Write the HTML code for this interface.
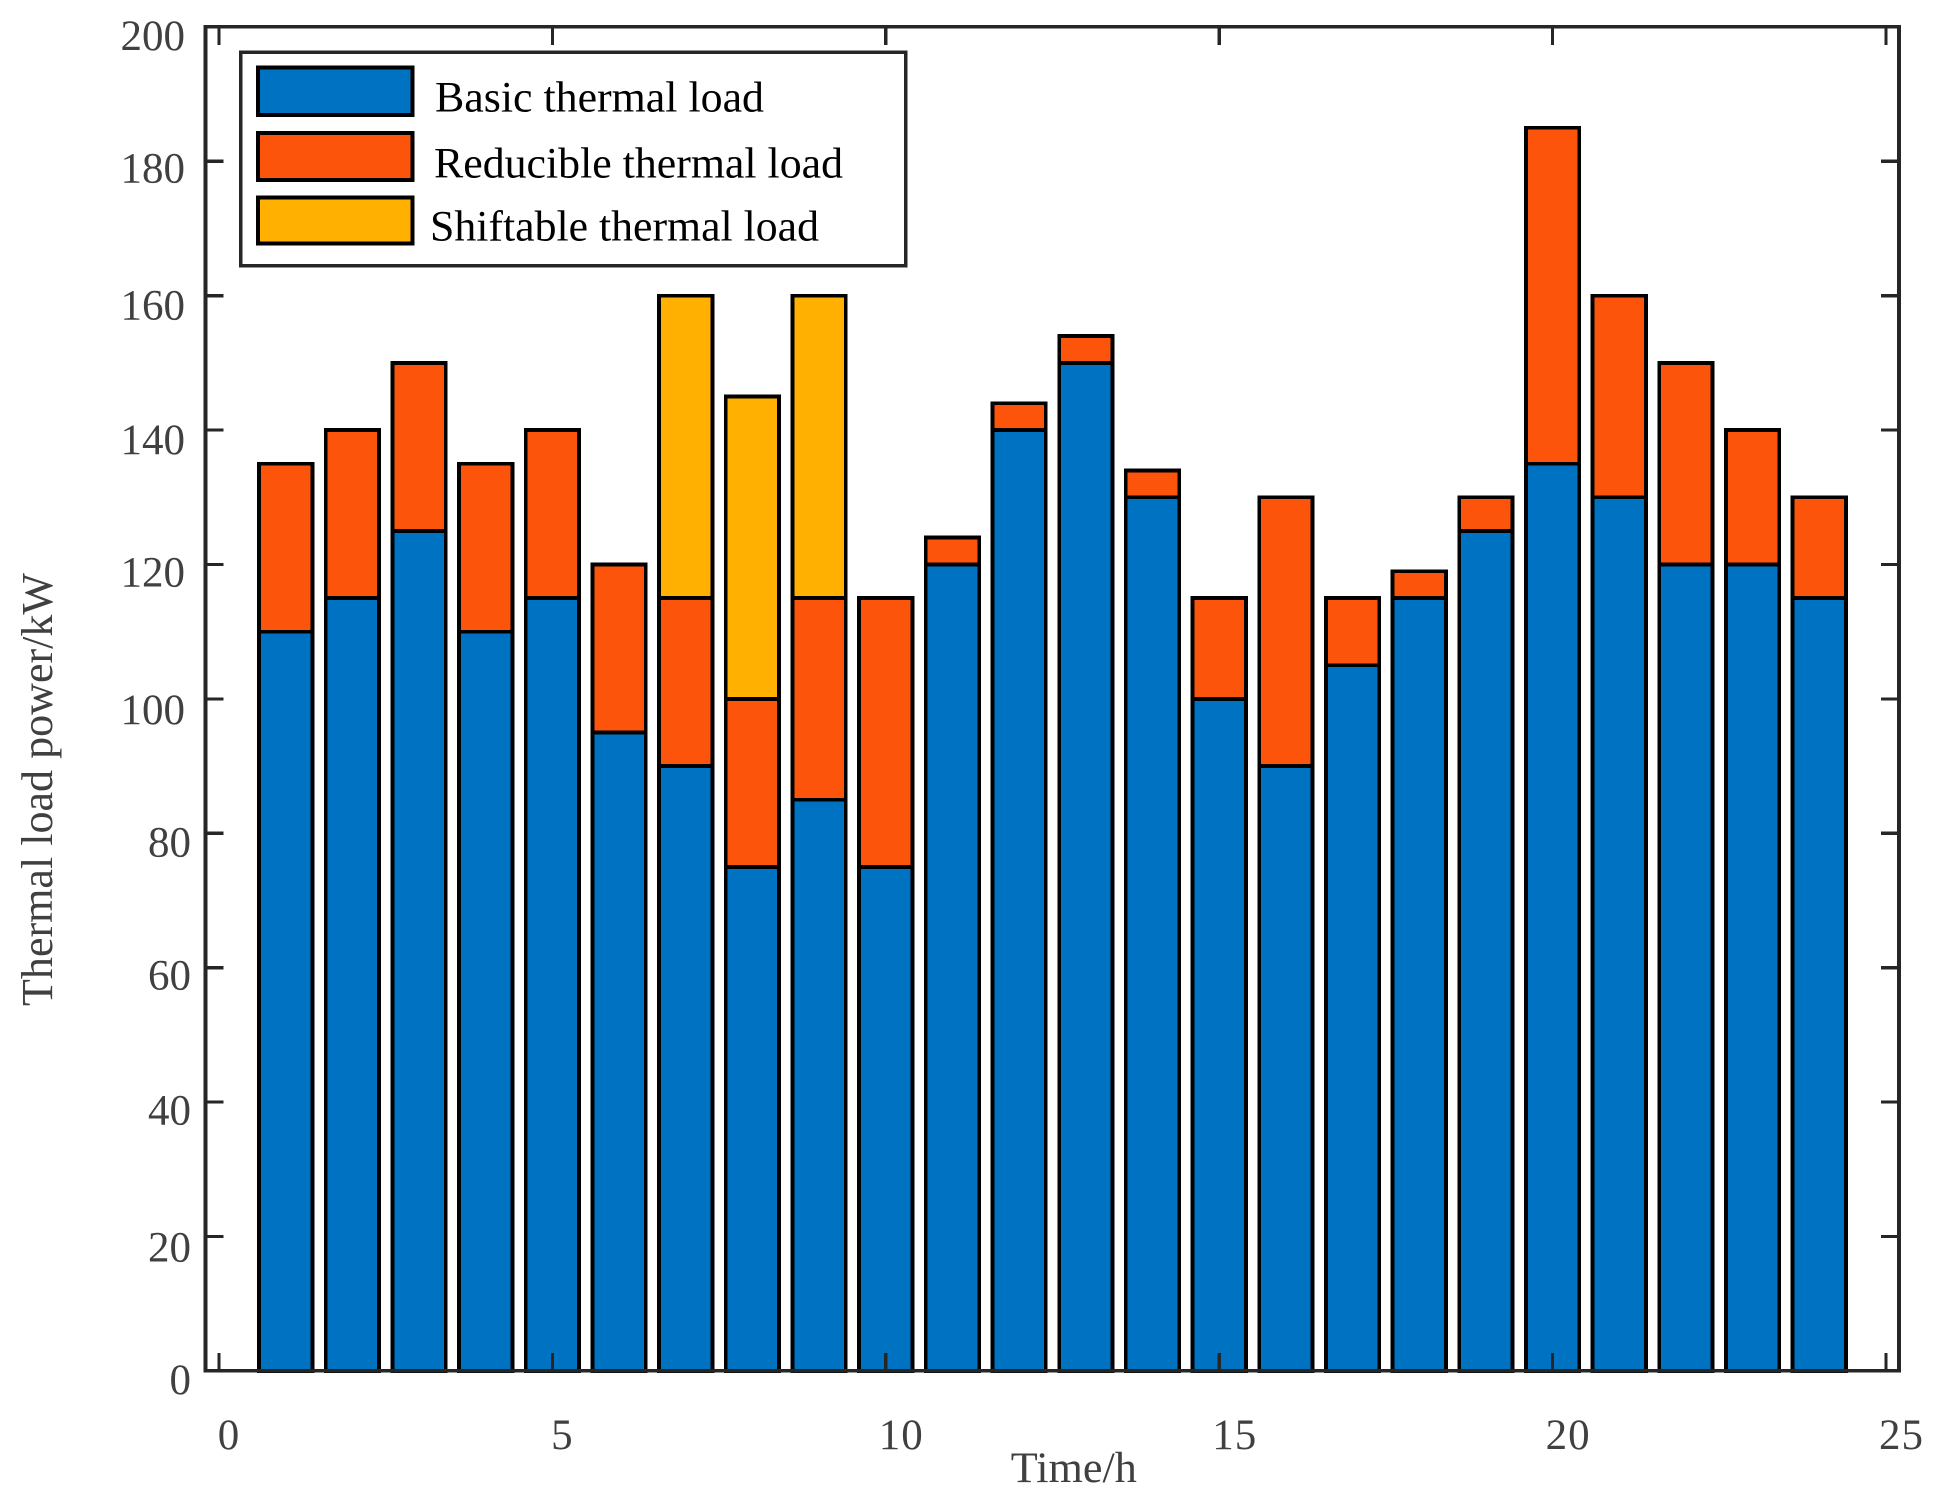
<!DOCTYPE html>
<html>
<head>
<meta charset="utf-8">
<title>Thermal load chart</title>
<style>
html,body{margin:0;padding:0;background:#fff;}
svg{display:block;font-family:"Liberation Serif",serif;}
rect,line{shape-rendering:crispEdges;}
</style>
</head>
<body>
<svg id="chart" xmlns="http://www.w3.org/2000/svg" width="1939" height="1499" viewBox="0 0 1939 1499">
<rect width="1939" height="1499" fill="#ffffff"/>
<g id="bars"></g>
<g id="axes"></g>
<text x="1073.8" y="1482" font-size="43" fill="#404040" text-anchor="middle" textLength="126" lengthAdjust="spacingAndGlyphs">Time/h</text>
<text transform="translate(52,789.5) rotate(-90)" font-size="44" fill="#404040" text-anchor="middle" textLength="433" lengthAdjust="spacingAndGlyphs">Thermal load power/kW</text>
<g>
<rect x="240.6" y="52" width="665" height="213.7" fill="#ffffff" stroke="#262626" stroke-width="3.5"/>
<rect x="258" y="67.5" width="154.5" height="47.5" fill="#0072C2" stroke="#000" stroke-width="3.8"/>
<text x="435" y="111.5" font-size="43" fill="#000" textLength="329" lengthAdjust="spacingAndGlyphs">Basic thermal load</text>
<rect x="258" y="133" width="154.5" height="47" fill="#FC540B" stroke="#000" stroke-width="3.8"/>
<text x="434" y="177.5" font-size="43" fill="#000" textLength="409" lengthAdjust="spacingAndGlyphs">Reducible thermal load</text>
<rect x="258" y="197.5" width="154.5" height="46" fill="#FFB000" stroke="#000" stroke-width="3.8"/>
<text x="430" y="240.5" font-size="43" fill="#000" textLength="389" lengthAdjust="spacingAndGlyphs">Shiftable thermal load</text>
</g>
</svg>
<script>
const hours = [1,2,3,4,5,6,7,8,9,10,11,12,13,14,15,16,17,18,19,20,21,22,23,24];
const basicLoad = [110,115,125,110,115,95,90,75,85,75,120,140,150,130,100,90,105,115,125,135,130,120,120,115];
const reducibleLoad = [25,25,25,25,25,25,25,25,30,40,4,4,4,4,15,40,10,4,5,50,30,30,20,15];
const shiftableLoad = [0,0,0,0,0,0,45,45,45,0,0,0,0,0,0,0,0,0,0,0,0,0,0,0];
const xTickValues = [0,5,10,15,20,25];
const yTickValues = [0,20,40,60,80,100,120,140,160,180,200];

const NS = 'http://www.w3.org/2000/svg';
const plot = {left: 205.5, right: 1899, top: 26.9, bottom: 1370.9};
const xScale = v => 219 + v * 66.68;
const yScale = v => plot.bottom - v * (plot.bottom - plot.top) / 200;
const barWidth = 0.8 * 66.68;
const yLabelBaselineShift = {0: 23, 20: 25, 40: 22.3, 60: 21.6, 80: 23.4, 100: 25, 120: 22, 140: 23.7, 160: 24, 180: 21, 200: 23};

function make(parent, tag, attrs, text) {
  const el = document.createElementNS(NS, tag);
  for (const k in attrs) el.setAttribute(k, attrs[k]);
  if (text !== undefined) el.textContent = text;
  parent.appendChild(el);
  return el;
}

const barsGroup = document.getElementById('bars');
const seriesList = [
  {key: 'basic', values: basicLoad, color: '#0072C2'},
  {key: 'reducible', values: reducibleLoad, color: '#FC540B'},
  {key: 'shiftable', values: shiftableLoad, color: '#FFB000'}
];
hours.forEach((h, i) => {
  let acc = 0;
  seriesList.forEach(s => {
    const v = s.values[i];
    if (v > 0) {
      const y1 = yScale(acc + v);
      const y0 = yScale(acc);
      const bar = make(barsGroup, 'rect', {
        x: xScale(h) - barWidth / 2,
        y: y1,
        width: barWidth,
        height: y0 - y1,
        fill: s.color,
        stroke: '#000',
        'stroke-width': 3.8
      });
      
      
    }
    acc += v;
  });
});

const axes = document.getElementById('axes');
const frame = make(axes, 'rect', {
  x: plot.left, y: plot.top,
  width: plot.right - plot.left, height: plot.bottom - plot.top,
  fill: 'none', stroke: '#262626', 'stroke-width': 3.6
});



const tickLen = 18;
xTickValues.forEach(v => {
  const x = xScale(v);
  const b = make(axes, 'line', {x1: x, x2: x, y1: plot.bottom, y2: plot.bottom - tickLen, stroke: '#262626', 'stroke-width': 3.2});
  
  
  const t = make(axes, 'line', {x1: x, x2: x, y1: plot.top, y2: plot.top + tickLen, stroke: '#262626', 'stroke-width': 3.2});
  
  
  const s = String(v);
  const lab = make(axes, 'text', {
    x: x + (s.length === 1 ? 9.5 : 15.5), y: 1449,
    'font-size': 43, fill: '#404040', 'text-anchor': 'middle', 'letter-spacing': s.length === 1 ? 0 : 1
  }, s);
  
  
});
yTickValues.forEach(v => {
  const y = yScale(v);
  const l = make(axes, 'line', {x1: plot.left, x2: plot.left + tickLen, y1: y, y2: y, stroke: '#262626', 'stroke-width': 3.2});
  
  
  const r = make(axes, 'line', {x1: plot.right, x2: plot.right - tickLen, y1: y, y2: y, stroke: '#262626', 'stroke-width': 3.2});
  
  
  const s = String(v);
  const shift = yLabelBaselineShift[v] === undefined ? 23 : yLabelBaselineShift[v];
  const lab = make(axes, 'text', {
    x: s.length === 3 ? 185 : 191, y: y + shift,
    'font-size': 43, fill: '#404040', 'text-anchor': 'end'
  }, s);
  
  
});
</script>
</body>
</html>
